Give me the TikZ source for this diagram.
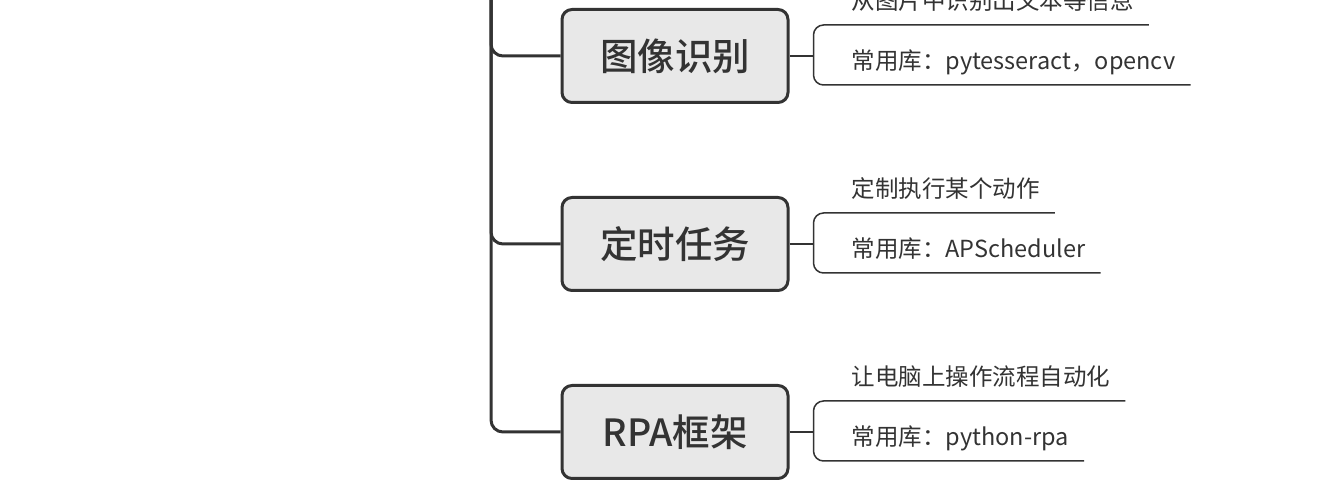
\documentclass[tikz,border=0pt]{standalone}
\usepackage{fontspec}
\setmainfont{Noto Sans CJK SC}
\newfontfamily\topicfont{Noto Sans CJK SC}[UprightFont={* Medium}]
\usetikzlibrary{positioning}
\definecolor{ink}{HTML}{333333}
\definecolor{boxfill}{HTML}{E8E8E8}

\begin{document}
\begin{tikzpicture}[x=1pt,y=1pt,
    topic/.style={draw=ink,line width=3pt,fill=boxfill,rounded corners=10pt,
      minimum width=226pt,minimum height=93pt,text=ink,
      font=\topicfont\fontsize{37.5}{40}\selectfont},
    note/.style={text=ink,inner xsep=15pt,inner ysep=15pt,text depth=0pt,
      anchor=south west,font=\fontsize{23.5}{26}\selectfont},
    trunk/.style={draw=ink,line width=3pt,rounded corners=12pt},
    twig/.style={draw=ink,line width=1.5pt,rounded corners=10pt}]
  \useasboundingbox (0,0) rectangle (1320,500);
  \clip (0,0) rectangle (1320,500);
  % main topics
  \coordinate (root) at (491,540);
  \node[topic] (img) at (675,444) {图像识别};
  \node[topic] (timer) at (675,256) {定时任务};
  \node[topic] (rpa) at (675,68) {RPA框架};
  \draw[trunk] (root) |- (img.west);
  \draw[trunk] (root) |- (timer.west);
  \draw[trunk] (root) |- (rpa.west);
  % sub topics
  \coordinate[right=24pt of img.east] (img-fork);
  \coordinate[right=24pt of timer.east] (timer-fork);
  \coordinate[right=24pt of rpa.east] (rpa-fork);
  \node[note] (img-desc) at ([shift={(23,31)}]img-fork) {从图片中识别出文本等信息};
  \node[note] (img-lib) at ([shift={(23,-29)}]img-fork) {常用库：pytesseract，opencv};
  \node[note] (timer-desc) at ([shift={(23,31)}]timer-fork) {定制执行某个动作};
  \node[note] (timer-lib) at ([shift={(23,-29)}]timer-fork) {常用库：APScheduler};
  \node[note] (rpa-desc) at ([shift={(23,31)}]rpa-fork) {让电脑上操作流程自动化};
  \node[note] (rpa-lib) at ([shift={(23,-29)}]rpa-fork) {常用库：python-rpa};
  \foreach \t in {img,timer,rpa}{
    \draw[twig] (\t.east) -- (\t-fork);
    \draw[twig] (\t-desc.south east) -- (\t-fork |- \t-desc.south)
      -- (\t-fork |- \t-lib.south) -- (\t-lib.south east);
  }
\end{tikzpicture}
\end{document}
